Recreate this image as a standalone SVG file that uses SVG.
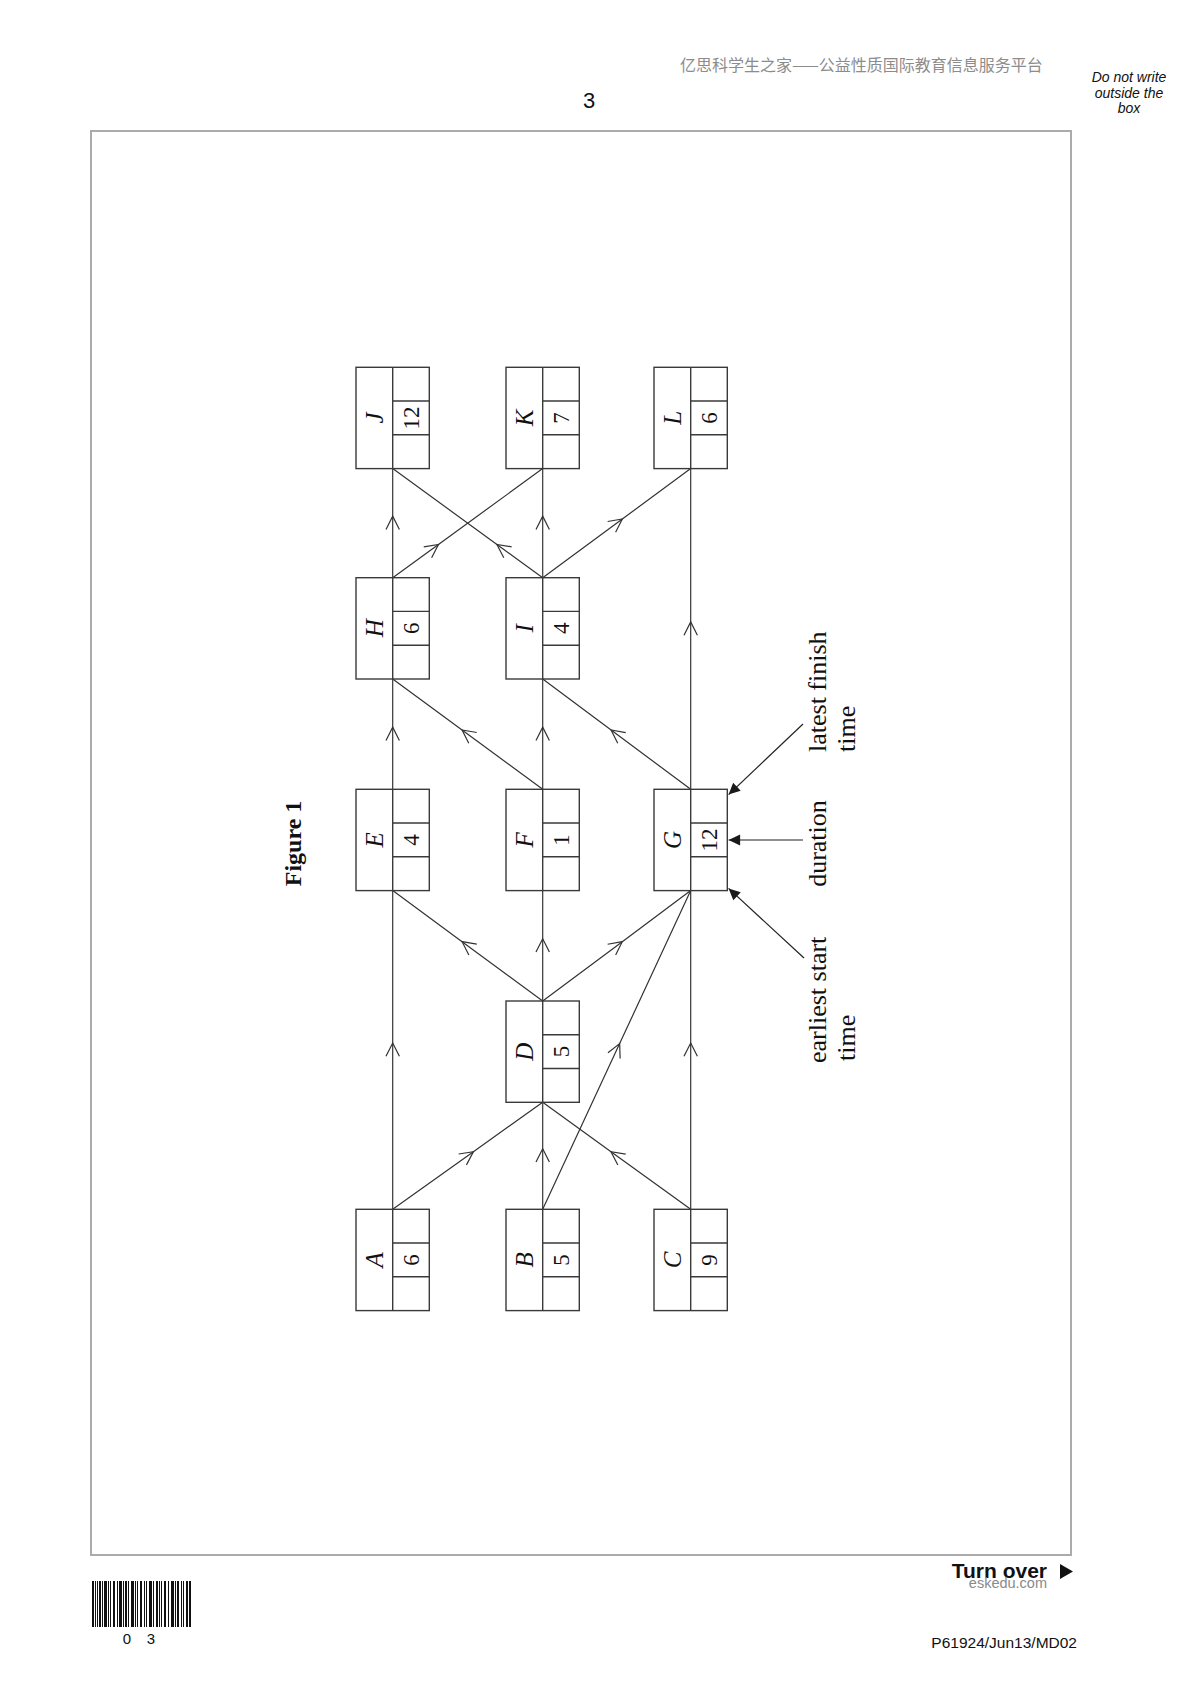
<svg xmlns="http://www.w3.org/2000/svg" width="1191" height="1684" viewBox="0 0 1191 1684">
<style>
.box{fill:none;stroke:#3a3a3a;stroke-width:1.4}
.edge{fill:none;stroke:#333;stroke-width:1.2}
.lbl{font-family:"Liberation Serif","Times New Roman",serif;font-style:italic;font-size:25px;fill:#111;text-anchor:middle}
.num{font-family:"Liberation Serif","Times New Roman",serif;font-size:23px;fill:#111;text-anchor:middle}
.ann{font-family:"Liberation Serif","Times New Roman",serif;font-size:26px;fill:#111;text-anchor:start}
.fig{font-family:"Liberation Serif","Times New Roman",serif;font-size:24px;font-weight:bold;fill:#111;text-anchor:middle}
.sans{font-family:"Liberation Sans",Arial,sans-serif}
</style>
<defs>
<marker id="arr" markerUnits="userSpaceOnUse" viewBox="-16 -9 18 18" markerWidth="18" markerHeight="18" refX="0" refY="0" orient="auto" overflow="visible"><path d="M-13.3,-6.7 L0,0 L-13.3,6.7" fill="none" stroke="#333" stroke-width="1.2"/></marker>
<marker id="tri" markerUnits="userSpaceOnUse" viewBox="-12 -7 13 14" markerWidth="13" markerHeight="14" refX="0" refY="0" orient="auto" overflow="visible"><path d="M-11.5,-5.5 L0,0 L-11.5,5.5 Z" fill="#1a1a1a"/></marker>
</defs>
<rect width="1191" height="1684" fill="#ffffff"/>

<!-- page furniture -->
<text x="680" y="71" font-family="'Noto Sans CJK SC',sans-serif" font-size="16" fill="#8c8c8c">亿思科学生之家——公益性质国际教育信息服务平台</text>
<g class="sans" font-style="italic" font-size="14" fill="#111" text-anchor="middle">
<text x="1129" y="82">Do not write</text>
<text x="1129" y="97.5">outside the</text>
<text x="1129" y="113">box</text>
</g>
<text x="589" y="108" class="sans" font-size="22" fill="#111" text-anchor="middle">3</text>
<rect x="91" y="131" width="980" height="1424" fill="none" stroke="#ababab" stroke-width="2"/>

<text x="1047" y="1578" class="sans" font-size="21" font-weight="bold" fill="#111" text-anchor="end">Turn over</text>
<text x="1047" y="1588" class="sans" font-size="14.5" fill="#8a8a8a" text-anchor="end">eskedu.com</text>
<polygon points="1060,1564 1073,1571.5 1060,1579" fill="#111"/>
<text x="1077" y="1648" class="sans" font-size="15.5" fill="#111" text-anchor="end">P61924/Jun13/MD02</text>

<g id="barcode" fill="#111">
<rect x="92" y="1581" width="2" height="46"/><rect x="95" y="1581" width="1" height="46"/><rect x="97" y="1581" width="1" height="46"/><rect x="99" y="1581" width="2" height="46"/><rect x="102" y="1581" width="1" height="46"/><rect x="104" y="1581" width="3" height="46"/><rect x="108" y="1581" width="1" height="46"/><rect x="110" y="1581" width="1" height="46"/><rect x="113" y="1581" width="2" height="46"/><rect x="117" y="1581" width="1" height="46"/><rect x="119" y="1581" width="3" height="46"/><rect x="123" y="1581" width="1" height="46"/><rect x="125" y="1581" width="2" height="46"/><rect x="128" y="1581" width="1" height="46"/><rect x="131" y="1581" width="3" height="46"/><rect x="135" y="1581" width="1" height="46"/><rect x="137" y="1581" width="1" height="46"/><rect x="140" y="1581" width="2" height="46"/><rect x="144" y="1581" width="1" height="46"/><rect x="146" y="1581" width="1" height="46"/><rect x="149" y="1581" width="3" height="46"/><rect x="153" y="1581" width="1" height="46"/><rect x="156" y="1581" width="2" height="46"/><rect x="159" y="1581" width="1" height="46"/><rect x="161" y="1581" width="1" height="46"/><rect x="164" y="1581" width="2" height="46"/><rect x="168" y="1581" width="1" height="46"/><rect x="171" y="1581" width="3" height="46"/><rect x="175" y="1581" width="1" height="46"/><rect x="177" y="1581" width="2" height="46"/><rect x="181" y="1581" width="1" height="46"/><rect x="183" y="1581" width="1" height="46"/><rect x="186" y="1581" width="2" height="46"/><rect x="189" y="1581" width="2" height="46"/>
</g>
<text x="127" y="1644" class="sans" font-size="15" fill="#111" text-anchor="middle">0</text>
<text x="151" y="1644" class="sans" font-size="15" fill="#111" text-anchor="middle">3</text>

<!-- title -->
<text class="fig" transform="translate(301,843.5) rotate(-90)">Figure 1</text>

<!-- connectors -->
<g id="connectors" class="edge" marker-mid="url(#arr)">
<path d="M392.7,1209.3 L392.7,1043 L392.7,890.6"/>
<path d="M392.7,1209.3 L473.4,1151.7 L542.7,1102.3"/>
<path d="M542.7,1209.3 L542.7,1148.8 L542.7,1102.3"/>
<path d="M542.7,1209.3 L619.65,1043.6 L690.7,890.6"/>
<path d="M690.7,1209.3 L611,1151.7 L542.7,1102.3"/>
<path d="M690.7,1209.3 L690.7,1043 L690.7,890.6"/>
<path d="M542.7,1001 L462.1,941.65 L392.7,890.6"/>
<path d="M542.7,1001 L542.7,938.8 L542.7,890.6"/>
<path d="M542.7,1001 L622.3,941.65 L690.7,890.6"/>
<path d="M392.7,789.3 L392.7,727.15 L392.7,679"/>
<path d="M542.7,789.3 L462.06,730 L392.7,679"/>
<path d="M542.7,789.3 L542.7,727.15 L542.7,679"/>
<path d="M690.7,789.3 L611.09,729.97 L542.7,679"/>
<path d="M690.7,789.3 L690.7,621.95 L690.7,468.6"/>
<path d="M392.7,577.7 L392.7,516.15 L392.7,468.6"/>
<path d="M392.7,577.7 L438.45,544.42 L542.7,468.6"/>
<path d="M542.7,577.7 L496.95,544.42 L392.7,468.6"/>
<path d="M542.7,577.7 L542.7,516.15 L542.7,468.6"/>
<path d="M542.7,577.7 L622.33,518.99 L690.7,468.6"/>
</g>

<!-- key annotations -->
<g id="key-arrows" stroke="#222" stroke-width="1.2" fill="none" marker-end="url(#tri)">
<path d="M803,724 L728.6,794.6"/>
<path d="M803,840 L728.6,840"/>
<path d="M804,958 L728.6,888.4"/>
</g>
<g id="key-labels">
<text class="ann" transform="translate(826,752) rotate(-90)">latest finish</text>
<text class="ann" transform="translate(855,752) rotate(-90)">time</text>
<text class="ann" text-anchor="middle" style="text-anchor:middle" transform="translate(826,843.5) rotate(-90)">duration</text>
<text class="ann" transform="translate(826,1063) rotate(-90)">earliest start</text>
<text class="ann" transform="translate(855,1061) rotate(-90)">time</text>
</g>

<!-- nodes -->
<g id="node-A">
<rect class="box" x="356" y="1209.3" width="73.3" height="101.3"/>
<path class="box" d="M392.7,1209.3 V1310.6 M392.7,1243 H429.3 M392.7,1276.8 H429.3"/>
<text class="lbl" transform="translate(382.6,1259.9) rotate(-90)">A</text>
<text class="num" transform="translate(418.8,1259.9) rotate(-90)">6</text>
</g>
<g id="node-B">
<rect class="box" x="506" y="1209.3" width="73.3" height="101.3"/>
<path class="box" d="M542.7,1209.3 V1310.6 M542.7,1243 H579.3 M542.7,1276.8 H579.3"/>
<text class="lbl" transform="translate(532.6,1259.9) rotate(-90)">B</text>
<text class="num" transform="translate(568.8,1259.9) rotate(-90)">5</text>
</g>
<g id="node-C">
<rect class="box" x="654" y="1209.3" width="73.3" height="101.3"/>
<path class="box" d="M690.7,1209.3 V1310.6 M690.7,1243 H727.3 M690.7,1276.8 H727.3"/>
<text class="lbl" transform="translate(680.6,1259.9) rotate(-90)">C</text>
<text class="num" transform="translate(716.8,1259.9) rotate(-90)">9</text>
</g>
<g id="node-D">
<rect class="box" x="506" y="1001" width="73.3" height="101.3"/>
<path class="box" d="M542.7,1001 V1102.3 M542.7,1034.7 H579.3 M542.7,1068.5 H579.3"/>
<text class="lbl" transform="translate(532.6,1051.6) rotate(-90)">D</text>
<text class="num" transform="translate(568.8,1051.6) rotate(-90)">5</text>
</g>
<g id="node-E">
<rect class="box" x="356" y="789.3" width="73.3" height="101.3"/>
<path class="box" d="M392.7,789.3 V890.6 M392.7,823 H429.3 M392.7,856.8 H429.3"/>
<text class="lbl" transform="translate(382.6,839.9) rotate(-90)">E</text>
<text class="num" transform="translate(418.8,839.9) rotate(-90)">4</text>
</g>
<g id="node-F">
<rect class="box" x="506" y="789.3" width="73.3" height="101.3"/>
<path class="box" d="M542.7,789.3 V890.6 M542.7,823 H579.3 M542.7,856.8 H579.3"/>
<text class="lbl" transform="translate(532.6,839.9) rotate(-90)">F</text>
<text class="num" transform="translate(568.8,839.9) rotate(-90)">1</text>
</g>
<g id="node-G">
<rect class="box" x="654" y="789.3" width="73.3" height="101.3"/>
<path class="box" d="M690.7,789.3 V890.6 M690.7,823 H727.3 M690.7,856.8 H727.3"/>
<text class="lbl" transform="translate(680.6,839.9) rotate(-90)">G</text>
<text class="num" transform="translate(716.8,839.9) rotate(-90)">12</text>
</g>
<g id="node-H">
<rect class="box" x="356" y="577.7" width="73.3" height="101.3"/>
<path class="box" d="M392.7,577.7 V679 M392.7,611.4 H429.3 M392.7,645.2 H429.3"/>
<text class="lbl" transform="translate(382.6,628.3) rotate(-90)">H</text>
<text class="num" transform="translate(418.8,628.3) rotate(-90)">6</text>
</g>
<g id="node-I">
<rect class="box" x="506" y="577.7" width="73.3" height="101.3"/>
<path class="box" d="M542.7,577.7 V679 M542.7,611.4 H579.3 M542.7,645.2 H579.3"/>
<text class="lbl" transform="translate(532.6,628.3) rotate(-90)">I</text>
<text class="num" transform="translate(568.8,628.3) rotate(-90)">4</text>
</g>
<g id="node-J">
<rect class="box" x="356" y="367.3" width="73.3" height="101.3"/>
<path class="box" d="M392.7,367.3 V468.6 M392.7,401 H429.3 M392.7,434.8 H429.3"/>
<text class="lbl" transform="translate(382.6,417.9) rotate(-90)">J</text>
<text class="num" transform="translate(418.8,417.9) rotate(-90)">12</text>
</g>
<g id="node-K">
<rect class="box" x="506" y="367.3" width="73.3" height="101.3"/>
<path class="box" d="M542.7,367.3 V468.6 M542.7,401 H579.3 M542.7,434.8 H579.3"/>
<text class="lbl" transform="translate(532.6,417.9) rotate(-90)">K</text>
<text class="num" transform="translate(568.8,417.9) rotate(-90)">7</text>
</g>
<g id="node-L">
<rect class="box" x="654" y="367.3" width="73.3" height="101.3"/>
<path class="box" d="M690.7,367.3 V468.6 M690.7,401 H727.3 M690.7,434.8 H727.3"/>
<text class="lbl" transform="translate(680.6,417.9) rotate(-90)">L</text>
<text class="num" transform="translate(716.8,417.9) rotate(-90)">6</text>
</g>
</svg>
